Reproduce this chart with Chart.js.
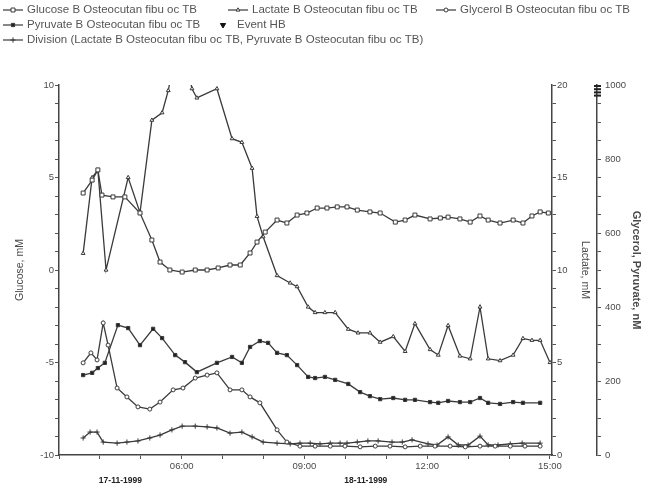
<!DOCTYPE html>
<html><head><meta charset="utf-8">
<script src="https://cdn.jsdelivr.net/npm/chart.js@4/dist/chart.umd.min.js"></script>
<style>html,body{margin:0;padding:0;background:#fff;}#wrap{width:656px;height:497px;position:relative;}</style>
</head><body><div id="wrap"><canvas id="c" width="656" height="497"></canvas></div>
<script>
// ---- data (time in hours of day, values in axis units) ----
const glucoseTimes = [3.59,3.81,3.95,4.05,4.32,4.61,4.98,5.27,5.47,5.71,6.01,6.33,6.62,6.89,7.18,7.43,7.67,7.84,8.04,8.33,8.57,8.82,9.06,9.31,9.55,9.80,10.04,10.29,10.60,10.85,11.22,11.46,11.70,12.07,12.32,12.51,12.80,13.05,13.29,13.49,13.78,14.10,14.34,14.56,14.76,14.96];
const glucoseValues = [4.16,4.86,5.41,4.05,3.95,3.95,3.08,1.62,0.43,0.0,-0.11,0.0,0.0,0.11,0.27,0.27,0.92,1.51,2.05,2.70,2.54,2.97,3.08,3.35,3.35,3.41,3.41,3.24,3.14,3.08,2.59,2.70,2.97,2.76,2.81,2.86,2.76,2.59,2.92,2.70,2.54,2.70,2.54,2.92,3.14,3.08];

const lactateTimes = [3.59,3.81,3.95,4.15,4.69,4.98,5.27,5.52,5.67,5.96,6.25,6.37,6.86,7.23,7.47,7.72,7.84,7.99,8.33,8.65,8.82,9.09,9.26,9.50,9.75,10.07,10.31,10.60,10.85,11.17,11.46,11.70,12.07,12.27,12.51,12.80,13.05,13.29,13.49,13.78,14.10,14.34,14.56,14.76,15.00];
const lactateValues = [10.9,15.0,15.4,10.0,15.0,13.1,18.1,18.5,19.7,23.0,19.8,19.3,19.8,17.1,16.9,15.5,12.9,11.8,9.7,9.3,9.1,8.0,7.7,7.7,7.7,6.8,6.6,6.6,6.1,6.4,5.6,7.1,5.7,5.4,7.0,5.35,5.2,8.0,5.2,5.1,5.4,6.3,6.2,6.2,5.0];

const glycerolTimes = [3.59,3.78,3.93,4.08,4.20,4.42,4.66,4.93,5.22,5.47,5.79,6.03,6.33,6.62,6.86,7.18,7.47,7.67,7.91,8.33,8.57,8.89,9.26,9.63,9.99,10.36,10.73,11.09,11.46,11.83,12.19,12.56,12.93,13.29,13.66,14.03,14.39,14.76];
const glycerolValues = [249,276,257,357,297,181,157,130,124,143,176,181,208,216,222,176,176,157,141,68,35,24,24,24,24,22,24,24,22,24,24,24,22,24,24,24,24,24];

const pyruvateTimes = [3.59,3.81,3.95,4.12,4.44,4.69,4.98,5.30,5.52,5.84,6.08,6.37,6.86,7.23,7.47,7.67,7.91,8.11,8.33,8.57,8.82,9.09,9.26,9.50,9.75,10.07,10.36,10.60,10.85,11.17,11.46,11.70,12.07,12.27,12.51,12.80,13.05,13.29,13.49,13.78,14.10,14.34,14.76];
const pyruvateValues = [216,222,235,249,351,343,297,341,316,270,251,224,249,265,249,292,308,303,276,270,243,211,208,211,203,192,170,159,151,154,149,149,143,141,146,143,143,154,141,138,143,141,141];

const eventTimes = [6.08,6.81,7.79];
const eventValues = [10.65,10.65,10.65];

const divisionTimes = [3.59,3.76,3.93,4.08,4.42,4.66,4.93,5.22,5.47,5.76,6.01,6.33,6.62,6.86,7.18,7.47,7.72,7.99,8.33,8.65,8.89,9.14,9.38,9.63,9.87,10.04,10.29,10.55,10.80,11.14,11.39,11.63,12.02,12.24,12.51,12.76,13.00,13.29,13.49,13.73,14.03,14.32,14.76];
const divisionValues = [46,62,62,35,32,35,38,46,54,68,78,78,76,73,59,62,49,35,32,30,32,32,30,32,32,32,35,38,38,35,35,41,30,27,49,27,27,51,27,27,30,32,32];

// ---- ticks / labels ----
const xTickHours = [3,4,5,6,7,8,9,10,11,12,13,14,15];
const xLabelHours = [6,9,12,15];
const dateLabels = ['17-11-1999','18-11-1999'];
const dateLabelHours = [4.5,10.5];
const glucoseTicks = [-10,-9,-8,-7,-6,-5,-4,-3,-2,-1,0,1,2,3,4,5,6,7,8,9,10];
const glucoseLabelTicks = [-10,-5,0,5,10];
const lactateTicks = [0,1,2,3,4,5,6,7,8,9,10,11,12,13,14,15,16,17,18,19,20];
const lactateLabelTicks = [0,5,10,15,20];
const nmTicks = [0,50,100,150,200,250,300,350,400,450,500,550,600,650,700,750,800,850,900,950,1000];
const nmLabelTicks = [0,200,400,600,800,1000];

const seriesNames = [
  'Glucose B Osteocutan fibu oc TB',
  'Lactate B Osteocutan fibu oc TB',
  'Glycerol B Osteocutan fibu oc TB',
  'Pyruvate B Osteocutan fibu oc TB',
  'Event HB',
  'Division (Lactate B Osteocutan fibu oc TB, Pyruvate B Osteocutan fibu oc TB)'
];

const FONT = '"Liberation Sans", Arial, sans-serif';
Chart.defaults.font.family = FONT;
const LINE = '#3a3a3a';
const TXT = '#4a4a4a';

function pts(t, v){ return t.map((x,i)=>({x:x, y:v[i]})); }
function lineDs(label, t, v, axis, style, radius, bg){
  return {label, data: pts(t,v), yAxisID: axis, borderColor: LINE, borderWidth: 1.3,
    pointStyle: style, pointRadius: radius, pointBackgroundColor: bg, pointBorderColor: LINE,
    pointBorderWidth: 1, tension: 0, fill: false};
}
const datasets = [
  lineDs(seriesNames[0], glucoseTimes, glucoseValues, 'y', 'rect', 2.8, '#fff'),
  lineDs(seriesNames[1], lactateTimes, lactateValues, 'y2', 'triangle', 2.2, '#fff'),
  lineDs(seriesNames[2], glycerolTimes, glycerolValues, 'y3', 'circle', 2.0, '#fff'),
  lineDs(seriesNames[3], pyruvateTimes, pyruvateValues, 'y3', 'rect', 2.3, '#222'),
  {label: seriesNames[4], data: pts(eventTimes, eventValues), yAxisID: 'y', showLine: false,
   pointStyle: 'triangle', pointRotation: 180, pointRadius: 4, pointBackgroundColor: '#111',
   pointBorderColor: '#111', borderColor: '#111', clip: false},
  lineDs(seriesNames[5], divisionTimes, divisionValues, 'y3', 'cross', 2.6, '#fff')
];

function axisGrid(){ return {drawOnChartArea:false, drawTicks:true, tickLength:4, color:'#555', lineWidth:1}; }
function axisBorder(){ return {display:true, color:'#444', width:1.5}; }
function fixedTicks(arr){ return s => { s.ticks = arr.map(v=>({value:v})); }; }

const decor = {
  id: 'decor',
  afterDraw(chart){
    const ctx = chart.ctx, xs = chart.scales.x;
    ctx.save();
    // date labels
    ctx.font = 'bold 8.5px ' + FONT;
    ctx.fillStyle = '#222'; ctx.textAlign = 'center'; ctx.textBaseline = 'middle';
    dateLabels.forEach((t,i)=>ctx.fillText(t, xs.getPixelForValue(dateLabelHours[i]), 481));
    // break mark on top of nM axis
    const y3 = chart.scales.y3;
    ctx.fillStyle = '#222';
    for (let i=0;i<4;i++) ctx.fillRect(y3.left-3, y3.top + i*3.2, 7, 2);
    // legend
    ctx.font = '11.5px ' + FONT;
    ctx.textAlign = 'left'; ctx.textBaseline = 'middle';
    const rows = [[0,1,2],[3,4],[5]];
    const rowX = [[3,228,436],[3,213],[3]];
    const rowY = [10, 25, 40];
    rows.forEach((row, r) => {
      row.forEach((i, k) => {
        const ds = chart.data.datasets[i];
        const x = rowX[r][k], y = rowY[r];
        if (i !== 4) {
          ctx.strokeStyle = LINE; ctx.lineWidth = 1.2;
          ctx.beginPath(); ctx.moveTo(x, y); ctx.lineTo(x+20, y); ctx.stroke();
        }
        ctx.fillStyle = ds.pointBackgroundColor; ctx.strokeStyle = ds.pointBorderColor; ctx.lineWidth = 1;
        Chart.helpers.drawPoint(ctx, {pointStyle: ds.pointStyle, radius: i===4?3:ds.pointRadius, rotation: ds.pointRotation||0, borderWidth: 1}, x+10, y);
        ctx.fillStyle = '#555';
        ctx.fillText(ds.label, x+24, y);
      });
    });
    ctx.restore();
  }
};

new Chart(document.getElementById('c'), {
  type: 'line',
  data: { datasets },
  options: {
    responsive: false, animation: false, events: [],
    devicePixelRatio: 1,
    layout: { padding: { top: 85, left: 0, right: 0, bottom: 0 } },
    plugins: { legend: { display: false }, tooltip: { enabled: false } },
    scales: {
      x: { type: 'linear', position: 'bottom', min: 3, max: 15.05,
        afterBuildTicks: fixedTicks(xTickHours),
        afterFit: s => { s.height = 42; },
        grid: axisGrid(), border: axisBorder(),
        ticks: { autoSkip: false, maxRotation: 0, padding: 2, color: TXT, font: {size: 9.5},
          callback: v => xLabelHours.includes(v) ? String(v).padStart(2,'0') + ':00' : '' } },
      y: { type: 'linear', position: 'left', min: -10, max: 10,
        afterBuildTicks: fixedTicks(glucoseTicks),
        afterFit: s => { s.width = 59; },
        grid: axisGrid(), border: axisBorder(),
        title: { display: true, text: 'Glucose, mM', color: TXT, font: {size: 10.5}, padding: {top: 14, bottom: 0} },
        ticks: { autoSkip: false, padding: 1, color: TXT, font: {size: 9.5},
          callback: v => glucoseLabelTicks.includes(v) ? String(v) : '' } },
      y2: { type: 'linear', position: 'right', min: 0, max: 20,
        afterBuildTicks: fixedTicks(lactateTicks),
        afterFit: s => { s.width = 45; },
        grid: axisGrid(), border: axisBorder(),
        title: { display: true, text: 'Lactate, mM', color: TXT, font: {size: 10.5}, padding: {top: 6, bottom: 0} },
        ticks: { autoSkip: false, padding: 1, color: TXT, font: {size: 9.5},
          callback: v => lactateLabelTicks.includes(v) ? String(v) : '' } },
      y3: { type: 'linear', position: 'right', min: 0, max: 1000,
        afterBuildTicks: fixedTicks(nmTicks),
        afterFit: s => { s.width = 59; },
        grid: axisGrid(), border: axisBorder(),
        title: { display: true, text: 'Glycerol, Pyruvate, nM', color: TXT, font: {size: 11, weight: 'bold'}, padding: {top: 13, bottom: 0} },
        ticks: { autoSkip: false, padding: 4, color: TXT, font: {size: 9.5},
          callback: v => nmLabelTicks.includes(v) ? String(v) : '' } }
    }
  },
  plugins: [decor]
});
</script></body></html>
